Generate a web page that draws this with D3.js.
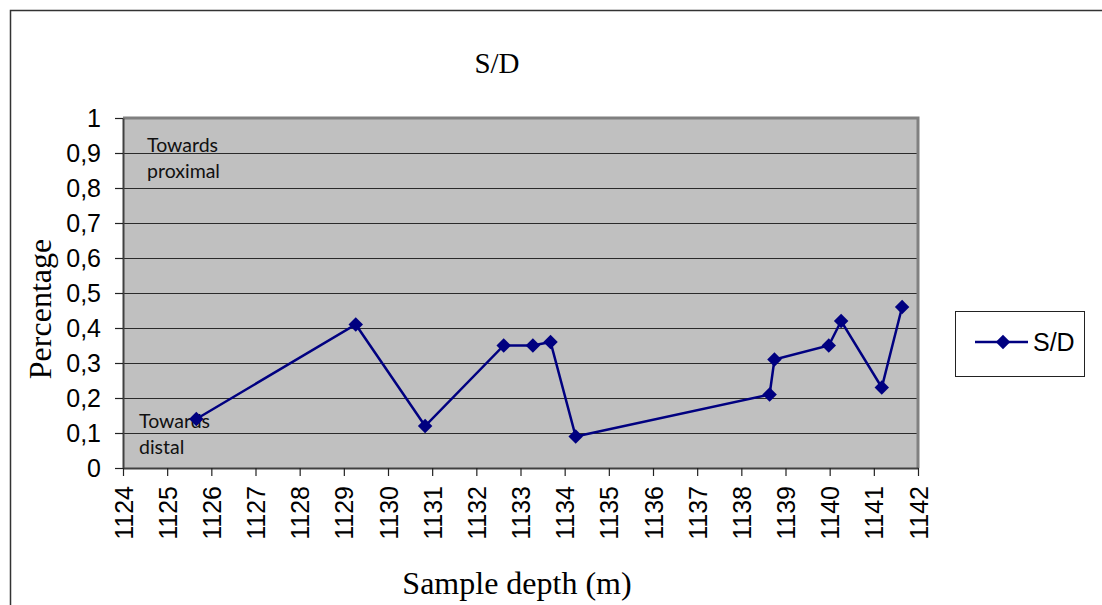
<!DOCTYPE html>
<html lang="en">
<head>
    <meta charset="UTF-8"/>
    <title>S/D</title>
    <script src="https://d3js.org/d3.v7.min.js" charset="utf-8"></script>
    <style type="text/css">
        body { margin: 0; background: #fff; }
        .serif { font-family: "Liberation Serif", "Times New Roman", serif; fill: #000; }
        .tick-text { font-family: "Liberation Sans", Arial, sans-serif; font-size: 25px; fill: #000; }
        .note { font-family: Lato, "Open Sans", sans-serif; font-size: 19.5px; fill: #111; }
    </style>
</head>
<body>
<svg width="1102" height="605"></svg>

<script type="text/javascript">
    // data
    var depth = [1125.66, 1129.27, 1130.84, 1132.62, 1133.28, 1133.68, 1134.25,
                 1138.64, 1138.75, 1139.98, 1140.26, 1141.18, 1141.64];
    var sdValues = [0.14, 0.41, 0.12, 0.35, 0.35, 0.36, 0.09,
                    0.21, 0.31, 0.35, 0.42, 0.23, 0.46];
    var xTicks = [1124, 1125, 1126, 1127, 1128, 1129, 1130, 1131, 1132, 1133,
                  1134, 1135, 1136, 1137, 1138, 1139, 1140, 1141, 1142];
    var yTicks = [0, 0.1, 0.2, 0.3, 0.4, 0.5, 0.6, 0.7, 0.8, 0.9, 1];
    var seriesName = "S/D";

    var svg = d3.select("svg");
    var plot = {left: 123, right: 918, top: 118, bottom: 468};
    var navy = "#000080";

    // outer chart frame (only top and left edges are inside the picture)
    svg.append("path")
        .attr("d", "M10.5,605 L10.5,10.5 L1102,10.5")
        .attr("fill", "none")
        .attr("stroke", "#333")
        .attr("stroke-width", 1.5);

    var x = d3.scaleLinear().domain([1124, 1142]).range([plot.left, plot.right]);
    var y = d3.scaleLinear().domain([0, 1]).range([plot.bottom, plot.top]);

    // plot area
    svg.append("rect")
        .attr("x", plot.left).attr("y", plot.top)
        .attr("width", plot.right - plot.left).attr("height", plot.bottom - plot.top)
        .attr("fill", "#c0c0c0");

    // gridlines
    svg.append("g")
        .selectAll("line")
        .data(yTicks.slice(1, -1))
        .enter().append("line")
        .attr("x1", plot.left).attr("x2", plot.right)
        .attr("y1", function(d) { return Math.round(y(d)) + 0.5; })
        .attr("y2", function(d) { return Math.round(y(d)) + 0.5; })
        .attr("stroke", "#2a2a2a")
        .attr("stroke-width", 1.2);

    // grey border top/right
    svg.append("path")
        .attr("d", "M" + plot.left + "," + plot.top + " L" + plot.right + "," + plot.top + " L" + plot.right + "," + plot.bottom)
        .attr("fill", "none")
        .attr("stroke", "#808080")
        .attr("stroke-width", 3);

    // y axis
    var yAxis = d3.axisLeft(y)
        .tickValues(yTicks)
        .tickSizeInner(8).tickSizeOuter(0).tickPadding(14)
        .tickFormat(function(d) { return d3.format(".1~f")(d).replace(".", ","); });
    var gy = svg.append("g")
        .attr("transform", "translate(" + plot.left + ",0)")
        .call(yAxis);
    gy.attr("font-size", null).attr("font-family", null);
    gy.select(".domain").attr("stroke", "#404040").attr("stroke-width", 2);
    gy.selectAll(".tick line").attr("stroke", "#222").attr("stroke-width", 1.2);
    gy.selectAll(".tick text").attr("class", "tick-text");

    // x axis
    var xAxis = d3.axisBottom(x)
        .tickValues(xTicks)
        .tickSizeInner(8).tickSizeOuter(0).tickPadding(10)
        .tickFormat(d3.format("d"));
    var gx = svg.append("g")
        .attr("transform", "translate(0," + plot.bottom + ")")
        .call(xAxis);
    gx.attr("font-size", null).attr("font-family", null);
    gx.select(".domain").attr("stroke", "#404040").attr("stroke-width", 2);
    gx.selectAll(".tick line").attr("stroke", "#222").attr("stroke-width", 1.2);
    gx.selectAll(".tick text")
        .attr("class", "tick-text")
        .attr("transform", "rotate(-90)")
        .attr("x", -18).attr("y", 0).attr("dy", "0.36em")
        .style("text-anchor", "end");

    // annotations
    var notes = svg.append("g").attr("class", "note");
    notes.append("text").attr("x", 147).attr("y", 152).text("Towards");
    notes.append("text").attr("x", 147).attr("y", 178).text("proximal");
    notes.append("text").attr("x", 139).attr("y", 428).text("Towards");
    notes.append("text").attr("x", 139).attr("y", 454).text("distal");

    // series line
    var points = depth.map(function(d, i) { return [d, sdValues[i]]; });
    var line = d3.line()
        .x(function(d) { return x(d[0]); })
        .y(function(d) { return y(d[1]); });

    svg.append("path")
        .datum(points)
        .attr("d", line)
        .attr("fill", "none")
        .attr("stroke", navy)
        .attr("stroke-width", 2.5);

    var diamond = d3.symbol().type(d3.symbolSquare).size(105);
    svg.append("g")
        .selectAll("path")
        .data(points)
        .enter().append("path")
        .attr("d", diamond)
        .attr("transform", function(d) { return "translate(" + x(d[0]) + "," + y(d[1]) + ") rotate(45)"; })
        .attr("fill", navy);

    // titles
    svg.append("text").attr("class", "serif")
        .attr("x", 497).attr("y", 73)
        .attr("text-anchor", "middle")
        .style("font-size", "29px")
        .text("S/D");

    svg.append("text").attr("class", "serif")
        .attr("transform", "translate(51,309) rotate(-90)")
        .attr("text-anchor", "middle")
        .style("font-size", "32px")
        .text("Percentage");

    svg.append("text").attr("class", "serif")
        .attr("x", 517).attr("y", 594)
        .attr("text-anchor", "middle")
        .style("font-size", "32px")
        .text("Sample depth (m)");

    // legend
    var legend = svg.append("g").attr("transform", "translate(955,311)");
    legend.append("rect")
        .attr("x", 0.5).attr("y", 0.5)
        .attr("width", 129).attr("height", 65)
        .attr("fill", "#fff")
        .attr("stroke", "#222")
        .attr("stroke-width", 1);
    legend.append("line")
        .attr("x1", 20).attr("x2", 73)
        .attr("y1", 31).attr("y2", 31)
        .attr("stroke", navy).attr("stroke-width", 2.5);
    legend.append("path")
        .attr("d", diamond)
        .attr("transform", "translate(48,31) rotate(45)")
        .attr("fill", navy);
    legend.append("text")
        .attr("class", "tick-text")
        .attr("x", 78).attr("y", 40)
        .text(seriesName);
</script>
</body>
</html>
